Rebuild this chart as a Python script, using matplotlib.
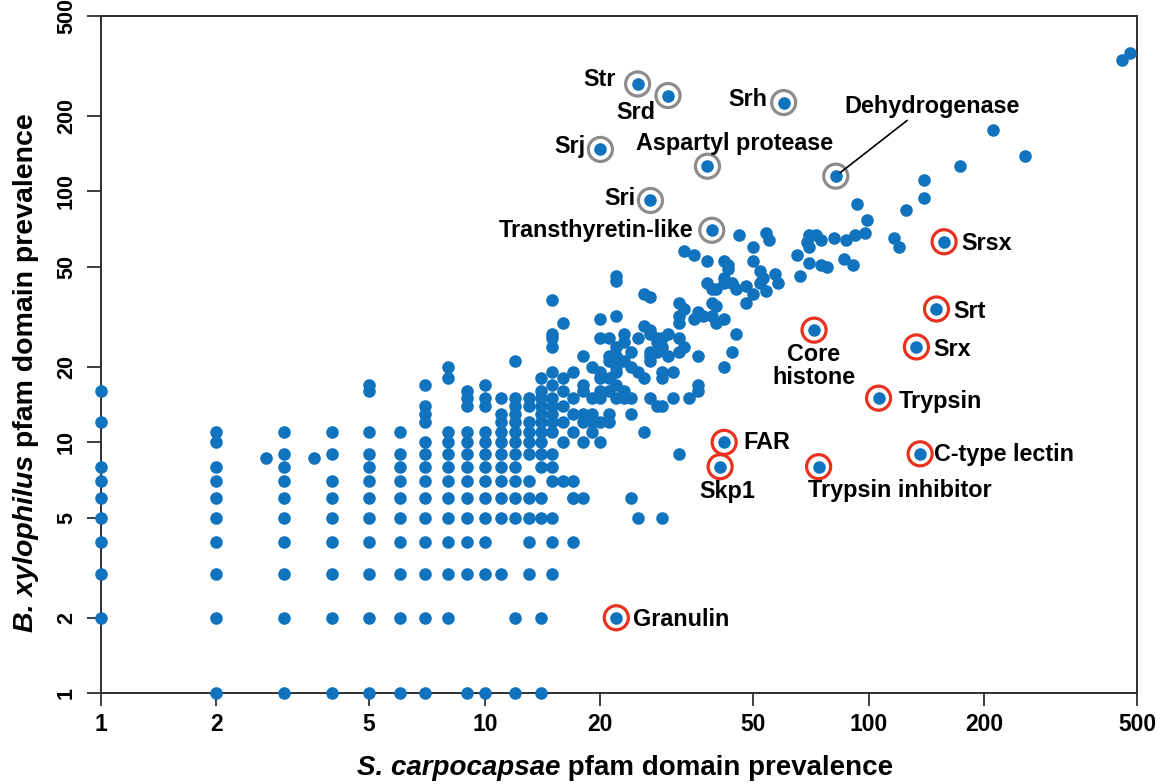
import matplotlib
matplotlib.use("Agg")
import matplotlib.pyplot as plt
from matplotlib.ticker import FixedLocator, FixedFormatter, NullLocator

plt.rcParams["font.family"] = ["Liberation Sans", "DejaVu Sans"]
plt.rcParams["font.weight"] = "bold"

BLUE = "#1172be"
GREY_RING = "#8c8c8c"
RED_RING = "#e8321f"

# low-count pfam domains: S. carpocapsae count -> list of B. xylophilus counts
grid_sc = [1, 2, 3, 4, 5, 6, 7, 8, 9, 10, 11, 12, 13, 14, 15, 16, 17]
grid_bx = [
    [16, 12, 8, 7, 6, 5, 4, 3, 2],
    [11, 10, 8, 7, 6, 5, 4, 3, 2, 1],
    [11, 9, 8, 7, 6, 5, 4, 3, 2, 1],
    [11, 9, 7, 6, 5, 4, 3, 2, 1],
    [17, 16, 11, 9, 8, 7, 6, 5, 4, 3, 2, 1],
    [11, 9, 8, 7, 6, 5, 4, 3, 2, 1],
    [17, 14, 13, 12, 10, 9, 8, 7, 6, 5, 4, 3, 2, 1],
    [20, 18, 11, 10, 9, 8, 7, 6, 5, 4, 3, 2],
    [16, 15, 14, 11, 10, 9, 8, 7, 6, 5, 4, 3, 1],
    [17, 15, 14, 11, 10, 9, 8, 7, 6, 5, 4, 3, 1],
    [15, 13, 12, 11, 10, 9, 8, 7, 6, 5, 3],
    [21, 15, 14, 13, 12, 11, 10, 9, 8, 7, 6, 5, 2, 1],
    [15, 14, 12, 11, 10, 9, 7, 6, 5, 4, 3],
    [18, 16, 15, 14, 13, 12, 11, 10, 9, 8, 6, 5, 2, 1],
    [17, 15, 14, 13, 12, 11, 9, 8, 7, 5, 4, 3],
    [18, 16, 14, 12, 10, 7],
    [19, 15, 13, 11, 7, 6, 4],
]

# mid-count domains (S. carpocapsae 15-60)
mid_sc = [2.7, 3.6, 17, 18, 24, 25, 29, 32, 26,
          20, 22, 20, 21, 23, 23, 25, 26, 27, 27, 28, 29, 30, 32, 33, 28,
          28, 27, 27, 29, 30, 32, 31, 29, 29, 27, 25, 26, 24, 23, 24, 22,
          22, 21, 21, 22, 22, 20, 21, 22, 23, 24, 23, 24, 27, 28, 29, 18,
          19, 18, 20, 18, 19, 20, 20, 21, 22, 18, 19, 20, 21, 21, 18, 19,
          19, 18, 20, 15, 16, 15, 15, 15, 15,
          22, 22, 26, 27, 32, 33, 32, 32, 35, 36, 37, 39, 40, 42, 45, 44,
          42, 36, 36, 36, 34, 31, 33, 35, 38, 42, 43, 43, 46, 54, 55, 50,
          50, 52, 53, 52, 57, 58, 42, 42, 44, 45, 38, 39, 40, 48, 48, 50,
          54, 39, 40]
mid_bx = [8.7, 8.7, 6, 6, 6, 5, 5, 9, 11,
          31, 32, 26, 26, 27, 25, 26, 29, 28, 27, 26, 26, 27, 26, 24, 25,
          23, 23, 22, 24, 22, 23, 19, 19, 18, 21, 19, 18, 23, 21, 20, 24,
          22, 22, 21, 20, 19, 18, 18, 17, 16, 15, 15, 13, 15, 14, 14, 22,
          20, 17, 19, 16, 15, 16, 15, 16, 15, 13, 13, 12, 12, 13, 12, 11,
          12, 10, 10, 19, 30, 37, 27, 26, 24,
          46, 44, 39, 38, 36, 34, 32, 30, 31, 33, 32, 32, 30, 31, 27, 23,
          20, 22, 17, 16, 15, 15, 58, 56, 53, 53, 51, 49, 67, 68, 64, 60,
          53, 48, 45, 43, 47, 43, 45, 43, 43, 41, 43, 41, 41, 42, 36, 39,
          40, 36, 35]

# high-count domains (S. carpocapsae above 60)
high_sc = [65, 66, 70, 75, 78, 86, 91, 69, 70, 70, 73, 75, 81, 87, 92, 98,
           99, 93, 116, 120, 125, 139, 139, 173, 210, 255, 456, 480]
high_bx = [56, 46, 52, 51, 50, 54, 51, 63, 60, 67, 67, 64, 65, 64, 67, 68,
           77, 89, 65, 60, 84, 111, 94, 126, 175, 139, 334, 357]

# highlighted domains
lab_names = ["Str", "Srd", "Srh", "Srj", "Aspartyl protease", "Dehydrogenase",
             "Sri", "Transthyretin-like", "Srsx", "Srt", "Core\nhistone", "Srx",
             "Trypsin", "FAR", "C-type lectin", "Skp1", "Trypsin inhibitor",
             "Granulin"]
lab_sc = [25, 30, 60, 20, 38, 82, 27, 39, 157, 150, 72, 133, 106, 42, 136, 41, 74, 22]
lab_bx = [268, 241, 226, 147, 126, 115, 92, 70, 63, 34, 28, 24, 15, 10, 9, 8, 8, 2]
lab_ring = ["grey"] * 8 + ["red"] * 10

# label placement: offset in pixels, horizontal / vertical alignment
lab_pos = {
    "Str": ((-22, 4), "right", "center"),
    "Srd": ((-32, -17), "center", "center"),
    "Srh": ((-16, 3), "right", "center"),
    "Srj": ((-15, 3), "right", "center"),
    "Aspartyl protease": ((27, 23), "center", "center"),
    "Dehydrogenase": ((96, 70), "center", "center"),
    "Sri": ((-15, 2), "right", "center"),
    "Transthyretin-like": ((-18, 0), "right", "center"),
    "Srsx": ((17, -2), "left", "center"),
    "Srt": ((17, -3), "left", "center"),
    "Core\nhistone": ((0, -13), "center", "top"),
    "Srx": ((17, -3), "left", "center"),
    "Trypsin": ((20, -3), "left", "center"),
    "FAR": ((19, 0), "left", "center"),
    "C-type lectin": ((14, -1), "left", "center"),
    "Skp1": ((7, -25), "center", "center"),
    "Trypsin inhibitor": ((81, -24), "center", "center"),
    "Granulin": ((17, -2), "left", "center"),
}

W, H = 1165, 784
fig = plt.figure(figsize=(W / 100, H / 100), dpi=100)
ax = fig.add_axes([100.7 / W, 1 - 693.3 / H, (1137.3 - 100.7) / W, (693.3 - 16) / H])
ax.set_xscale("log")
ax.set_yscale("log")
ax.set_xlim(1, 500)
ax.set_ylim(1, 500)

pts_x, pts_y = [], []
for sc, col in zip(grid_sc, grid_bx):
    pts_x += [sc] * len(col)
    pts_y += col
pts_x += mid_sc + high_sc
pts_y += mid_bx + high_bx

ax.scatter(pts_x, pts_y, s=82, color=BLUE, lw=0, zorder=3, clip_on=False)
ax.scatter(lab_sc, lab_bx, s=82, color=BLUE, lw=0, zorder=3, clip_on=False)
ring_cols = [GREY_RING if r == "grey" else RED_RING for r in lab_ring]
ax.scatter(lab_sc, lab_bx, s=300, facecolors="none", edgecolors=ring_cols,
           linewidths=2.3, zorder=4, clip_on=False)

for name, x, y in zip(lab_names, lab_sc, lab_bx):
    (dx, dy), ha, va = lab_pos[name]
    kw = {}
    if name == "Dehydrogenase":
        kw["arrowprops"] = dict(arrowstyle="-", color="black", lw=1.2,
                                shrinkA=0, shrinkB=4, relpos=(0.38, 0.0))
    ax.annotate(name, (x, y), xytext=(dx, dy), textcoords="offset pixels",
                ha=ha, va=va, fontsize=16.8, fontweight="bold",
                linespacing=1.0, zorder=5, **kw)

ticks = [1, 2, 5, 10, 20, 50, 100, 200, 500]
for axis in (ax.xaxis, ax.yaxis):
    axis.set_major_locator(FixedLocator(ticks))
    axis.set_major_formatter(FixedFormatter([str(t) for t in ticks]))
    axis.set_minor_locator(NullLocator())

for side in ("left", "bottom", "top", "right"):
    ax.spines[side].set_color("#2e2e2e")
    ax.spines[side].set_linewidth(1.4)
ax.tick_params(axis="x", length=9, width=1.3, pad=5, labelsize=16.5, color="#2e2e2e")
ax.tick_params(axis="y", length=10, width=1.3, pad=7, labelsize=15.5, color="#2e2e2e")
for lab in ax.get_yticklabels():
    lab.set_rotation(90)
    lab.set_va("center")

# axis titles with italic species names
t1 = fig.text(357 / W, 1 - 768 / H, "S. carpocapsae", fontsize=20, fontweight="bold",
              style="italic", ha="left", va="center")
ax.annotate(" pfam domain prevalence", xy=(1, 0.5), xycoords=t1, fontsize=20,
            fontweight="bold", ha="left", va="center")
t2 = fig.text(26 / W, 1 - 632 / H, "B. xylophilus", fontsize=20.5, fontweight="bold",
              style="italic", rotation=90, ha="center", va="bottom")
ax.annotate(" pfam domain prevalence", xy=(0.5, 1), xycoords=t2, fontsize=20.5,
            fontweight="bold", rotation=90, ha="center", va="bottom")

fig.savefig("out.png", dpi=100)
